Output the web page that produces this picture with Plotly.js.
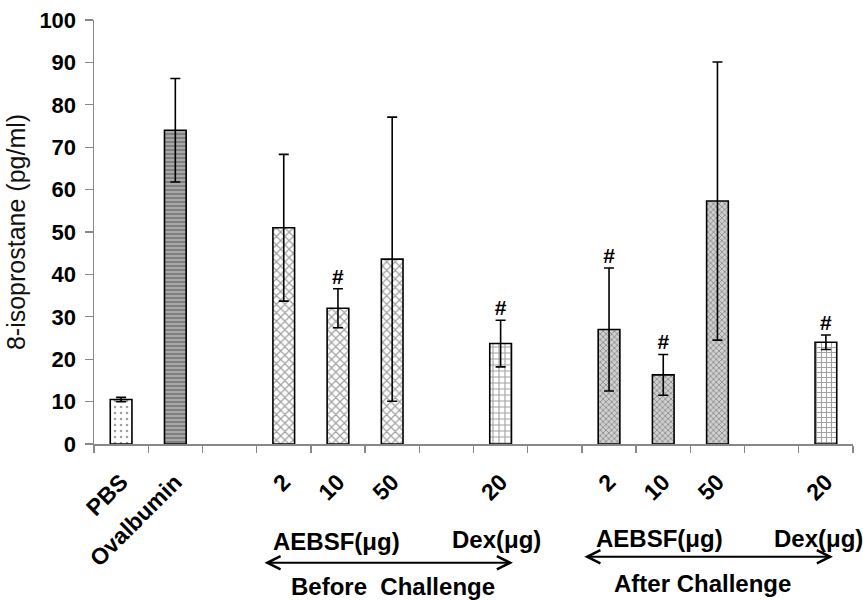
<!DOCTYPE html>
<html>
<head>
<meta charset="utf-8">
<script src="https://cdn.plot.ly/plotly-3.0.1.min.js"></script>
<style>html,body{margin:0;padding:0;background:#fff;}#chart{width:863px;height:600px;}</style>
</head>
<body>
<div id="chart"></div>
<script>
// Categories (gaps are empty slots on the axis)
var categories = ['PBS','Ovalbumin','gap1','AEBSF 2 before','AEBSF 10 before','AEBSF 50 before','gap2','Dex 20 before','gap3','AEBSF 2 after','AEBSF 10 after','AEBSF 50 after','gap4','Dex 20 after'];
var tickLabels = ['PBS','Ovalbumin','','2','10','50','','20','','2','10','50','','20'];
var values = [10.5, 74.0, null, 51.0, 32.0, 43.6, null, 23.7, null, 27.0, 16.3, 57.3, null, 24.0];
var errors = [0.5, 12.2, null, 17.3, 4.6, 33.5, null, 5.5, null, 14.5, 4.8, 32.8, null, 1.7];
var significant = [false,false,false,false,true,false,false,true,false,true,true,false,false,true];

// Pattern styles per bar
var patShape = ['.','-','','x','x','x','','+','','x','x','x','','+'];
var patBg    = ['#ffffff','#a8a8a8','#fff','#ffffff','#ffffff','#ffffff','#fff','#ffffff','#fff','#cfcfcf','#cfcfcf','#cfcfcf','#fff','#ffffff'];
var patSize  = [6,4,6,6,6,6,6,6,6,4,4,4,6,5];
var patSol   = [0.15,0.4,0.2,0.38,0.38,0.38,0.2,0.34,0.2,0.38,0.38,0.38,0.2,0.4];

var hashX = [], hashY = [];
for (var i = 0; i < categories.length; i++) {
  if (significant[i]) { hashX.push(categories[i]); hashY.push(values[i] + errors[i]); }
}

var bars = {
  type: 'bar',
  x: categories,
  y: values,
  width: 0.4,
  marker: {
    color: patBg,
    line: {color: '#000', width: 1.6},
    pattern: {shape: patShape, bgcolor: patBg, fgcolor: '#000', size: patSize, solidity: patSol, fillmode: 'overlay'}
  },
  error_y: {type: 'data', array: errors, visible: true, color: '#000', thickness: 1.6, width: 5},
  hoverinfo: 'skip'
};
var hashes = {
  type: 'scatter', mode: 'text', x: hashX, y: hashY, text: hashX.map(function(){return '<b>#</b>';}),
  textposition: 'top center', textfont: {family: 'Liberation Sans, Arial', size: 21, color: '#000'},
  cliponaxis: false, hoverinfo: 'skip'
};

var xFont = {family: 'Liberation Sans, Arial', size: 23, color: '#000', weight: 'bold'};
var yFont = {family: 'Liberation Sans, Arial', size: 22, color: '#000', weight: 'bold'};
function txt(t, x, y) {
  return {text: '<b>' + t + '</b>', x: x, y: y, xref: 'paper', yref: 'paper', showarrow: false,
          xanchor: 'center', yanchor: 'middle', font: {family: 'Liberation Sans, Arial', size: 24, color: '#000'}};
}
function arrow(x0, x1, y) {
  return {text: '', x: x1, y: y, xref: 'paper', yref: 'paper', ax: -(x1 - x0) * 759, ay: 0, axref: 'pixel', ayref: 'pixel',
          showarrow: true, arrowside: 'end+start', arrowhead: 5, startarrowhead: 5, arrowsize: 1.3, startarrowsize: 1.3,
          arrowwidth: 2, arrowcolor: '#000'};
}

var layout = {
  width: 863, height: 600,
  margin: {l: 94, r: 10, t: 20, b: 156},
  paper_bgcolor: '#fff', plot_bgcolor: '#fff',
  showlegend: false,
  xaxis: {
    type: 'category', categoryorder: 'array', categoryarray: categories,
    tickmode: 'array', tickvals: categories, ticktext: tickLabels,
    tickson: 'boundaries', ticks: 'outside', ticklen: 7, tickcolor: '#888', tickwidth: 1.3,
    tickangle: -45, tickfont: xFont, ticklabelstandoff: 14,
    showline: true, linecolor: '#888', linewidth: 1.5, showgrid: false, zeroline: false,
    range: [-0.5, 13.5], fixedrange: true
  },
  yaxis: {
    range: [0, 100], dtick: 10, tick0: 0,
    ticks: 'outside', ticklen: 8, tickcolor: '#888', tickwidth: 1.3,
    tickfont: yFont, ticklabelstandoff: 4,
    showline: true, linecolor: '#888', linewidth: 1.5, showgrid: false, zeroline: false,
    title: {text: '8-isoprostane (pg/ml)', font: {family: 'Liberation Sans, Arial', size: 25, color: '#111'}, standoff: 6},
    fixedrange: true
  },
  annotations: [
    txt('AEBSF(μg)', 0.3195, -0.230),
    txt('Dex(μg)', 0.530, -0.226),
    arrow(0.2226, 0.552, -0.280),
    txt('Before&nbsp;&nbsp;Challenge', 0.394, -0.336),
    txt('AEBSF(μg)', 0.745, -0.2225),
    txt('Dex(μg)', 0.9545, -0.2225),
    arrow(0.644, 0.9736, -0.266),
    txt('After Challenge', 0.8017, -0.3286)
  ]
};

Plotly.newPlot('chart', [bars, hashes], layout, {displayModeBar: false, staticPlot: true});
</script>
</body>
</html>
